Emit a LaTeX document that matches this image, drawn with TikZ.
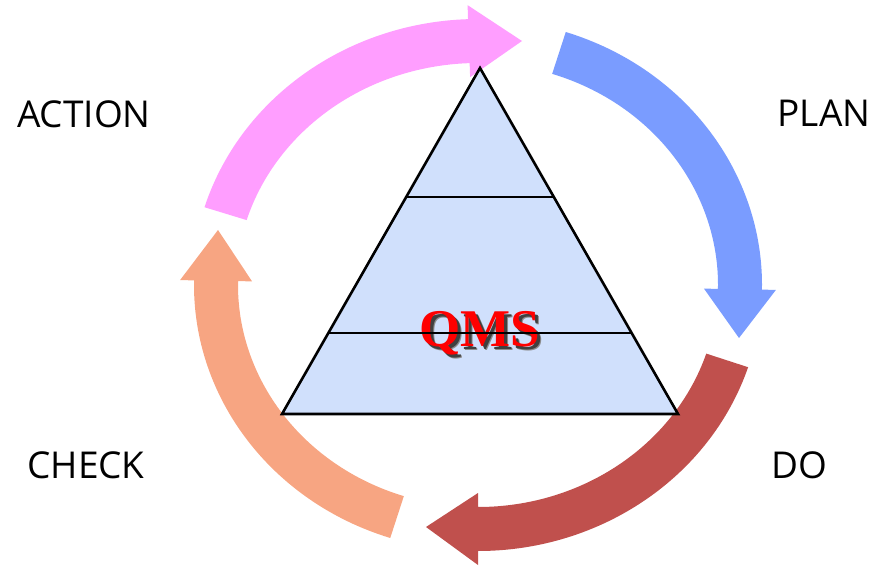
\documentclass[tikz,border=0pt]{standalone}
\usepackage{fontspec}
\setmainfont{Open Sans}
\newfontfamily\qmsfont{Liberation Serif}
\usetikzlibrary{calc}
\definecolor{actpink}{RGB}{255,158,255}
\definecolor{planblue}{RGB}{122,156,255}
\definecolor{dored}{RGB}{192,80,77}
\definecolor{checksalmon}{RGB}{247,165,130}
\definecolor{pyrfill}{RGB}{208,224,252}
\definecolor{qmsred}{RGB}{255,0,0}

\begin{document}
\begin{tikzpicture}[
    x=1pt, y=1pt,
    stage/.style={font=\fontsize{37}{44}\selectfont, inner sep=0pt},
    layer/.style={line width=2.6pt, black},
    qmstext/.style={font=\qmsfont\bfseries\fontsize{53}{60}\selectfont, inner sep=0pt, anchor=base}
]
    \useasboundingbox (0,0) rectangle (877,565);
    \coordinate (C) at (478,280);

    % cycle arrows
    \fill[actpink] ($(C)+(163:286pt and 266pt)$) arc[start angle=163, end angle=92, x radius=286pt, y radius=266pt]
        -- ($(C)+(92:298pt and 280pt)$) -- (522,524) -- ($(C)+(92:226pt and 208pt)$)
        -- ($(C)+(92:240pt and 222pt)$) arc[start angle=92, end angle=163, x radius=242pt, y radius=222pt] -- cycle;
    \fill[planblue] ($(C)+(72:284pt and 266pt)$) arc[start angle=72, end angle=-1, x radius=284pt, y radius=266pt]
        -- ($(C)+(-1:298pt and 280pt)$) -- (739,227) -- ($(C)+(-1:226pt and 208pt)$)
        -- ($(C)+(-1:240pt and 222pt)$) arc[start angle=-1, end angle=72, x radius=240pt, y radius=222pt] -- cycle;
    \fill[dored] ($(C)+(-18:284pt and 266pt)$) arc[start angle=-18, end angle=-90, x radius=284pt, y radius=266pt]
        -- ($(C)+(-90:298pt and 280pt)$) -- (426,38) -- ($(C)+(-90:226pt and 208pt)$)
        -- ($(C)+(-90:240pt and 222pt)$) arc[start angle=-90, end angle=-18, x radius=240pt, y radius=222pt] -- cycle;
    \fill[checksalmon] ($(C)+(-108:284pt and 266pt)$) arc[start angle=-108, end angle=-181, x radius=284pt, y radius=266pt]
        -- ($(C)+(-181:298pt and 280pt)$) -- (218,335) -- ($(C)+(-181:226pt and 208pt)$)
        -- ($(C)+(-181:240pt and 222pt)$) arc[start angle=-181, end angle=-108, x radius=240pt, y radius=222pt] -- cycle;

    % pyramid
    \coordinate (apex) at (480,497);
    \coordinate (bl) at (282,151);
    \coordinate (br) at (678,151);
    \filldraw[layer, fill=pyrfill, line join=miter] (bl) -- (apex) -- (br) -- cycle;

    \node[qmstext, text=black!45] (qmsblur) at (484,214) {QMS};
    \node[qmstext, text=black!75] (qmsshadow) at (482.5,215.5) {QMS};
    \node[qmstext, text=qmsred] (qms) at (480,218) {QMS};

    \draw[layer] ($(bl)!0.627!(apex)$) -- ($(br)!0.627!(apex)$);
    \draw[layer] ($(bl)!0.234!(apex)$) -- ($(br)!0.234!(apex)$);

    \node[stage] (act) at (84,451) {ACTION};
    \node[stage] (plan) at (824,452) {PLAN};
    \node[stage] (check) at (86,100) {CHECK};
    \node[stage] (do) at (799,100) {DO};
\end{tikzpicture}
\end{document}
